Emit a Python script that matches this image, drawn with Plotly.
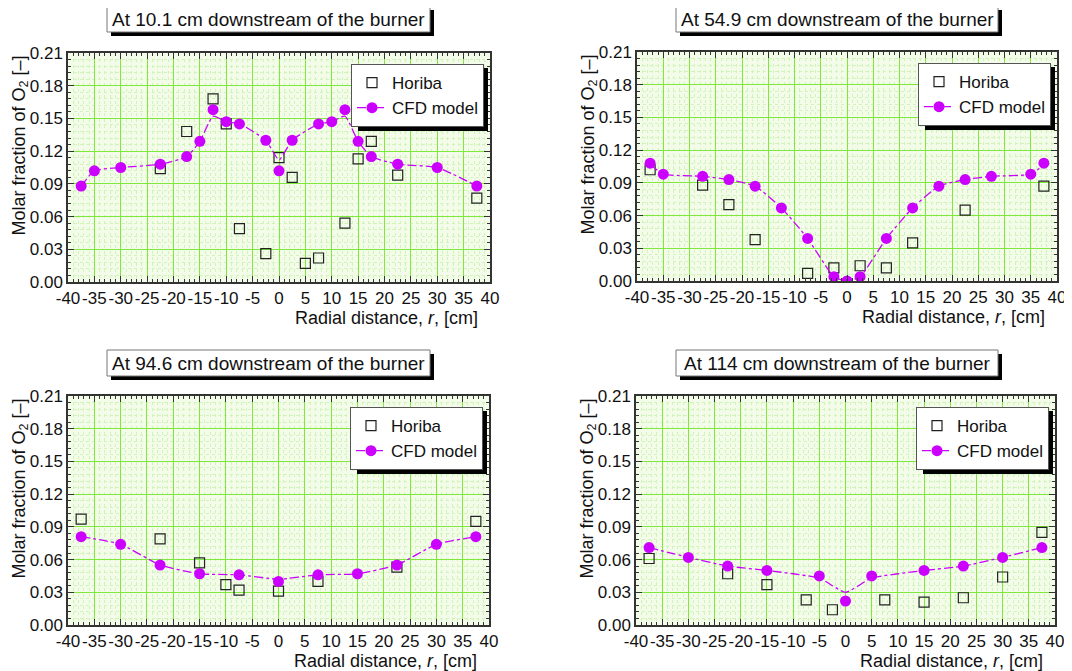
import plotly.graph_objects as go

# page body has an 8px margin: figure is sized so it ends at the window edge
OFF = 8
W, H = 1072 - OFF, 671 - OFF

# ---------------- data ----------------
titles = ["At 10.1 cm downstream of the burner",
          "At 54.9 cm downstream of the burner",
          "At 94.6 cm downstream of the burner",
          "At 114 cm downstream of the burner"]

x_ticks = list(range(-40, 41, 5))
x_tick_text = [str(v) for v in x_ticks]
y_ticks = [0.00, 0.03, 0.06, 0.09, 0.12, 0.15, 0.18, 0.21]

# Panel 1: 10.1 cm
horiba_r_1 = [-22.5, -17.5, -12.5, -10, -7.5, -2.5, 0, 2.5, 5, 7.5, 12.5, 15, 17.5, 22.5, 37.5]
horiba_v_1 = [0.104, 0.138, 0.168, 0.145, 0.049, 0.026, 0.114, 0.096, 0.017, 0.022, 0.054, 0.113, 0.129, 0.098, 0.077]
cfd_r_1 = [-37.5, -35, -30, -22.5, -17.5, -15, -12.5, -10, -7.5, -2.5, 0, 2.5, 7.5, 10, 12.5, 15, 17.5, 22.5, 30, 37.5]
cfd_v_1 = [0.088, 0.102, 0.105, 0.108, 0.115, 0.129, 0.158, 0.147, 0.145, 0.130, 0.102, 0.130, 0.145, 0.147, 0.158, 0.129, 0.115, 0.108, 0.105, 0.088]
cfd_line_1 = [0.088, 0.102, 0.105, 0.108, 0.115, 0.129, 0.152, 0.147, 0.145, 0.130, 0.112, 0.130, 0.145, 0.147, 0.152, 0.129, 0.115, 0.108, 0.105, 0.088]

# Panel 2: 54.9 cm
horiba_r_2 = [-37.5, -27.5, -22.5, -17.5, -7.5, -2.5, 2.5, 7.5, 12.5, 22.5, 37.5]
horiba_v_2 = [0.102, 0.088, 0.070, 0.038, 0.007, 0.012, 0.014, 0.012, 0.035, 0.065, 0.087]
cfd_r_2 = [-37.5, -35, -27.5, -22.5, -17.5, -12.5, -7.5, -2.5, 0, 2.5, 7.5, 12.5, 17.5, 22.5, 27.5, 35, 37.5]
cfd_v_2 = [0.108, 0.098, 0.096, 0.093, 0.087, 0.067, 0.039, 0.004, 0.000, 0.004, 0.039, 0.067, 0.087, 0.093, 0.096, 0.098, 0.108]
cfd_line_2 = [0.107, 0.098, 0.096, 0.093, 0.087, 0.067, 0.039, 0.004, 0.000, 0.004, 0.039, 0.067, 0.087, 0.093, 0.096, 0.098, 0.107]

# Panel 3: 94.6 cm
horiba_r_3 = [-37.5, -22.5, -15, -10, -7.5, 0, 7.5, 22.5, 37.5]
horiba_v_3 = [0.097, 0.079, 0.057, 0.037, 0.032, 0.031, 0.040, 0.053, 0.095]
cfd_r_3 = [-37.5, -30, -22.5, -15, -7.5, 0, 7.5, 15, 22.5, 30, 37.5]
cfd_v_3 = [0.081, 0.074, 0.055, 0.047, 0.046, 0.040, 0.046, 0.047, 0.055, 0.074, 0.081]
cfd_line_3 = [0.081, 0.074, 0.055, 0.047, 0.046, 0.042, 0.046, 0.047, 0.055, 0.074, 0.081]

# Panel 4: 114 cm
horiba_r_4 = [-37.5, -22.5, -15, -7.5, -2.5, 7.5, 15, 22.5, 30, 37.5]
horiba_v_4 = [0.061, 0.047, 0.037, 0.023, 0.014, 0.023, 0.021, 0.025, 0.044, 0.085]
cfd_r_4 = [-37.5, -30, -22.5, -15, -5, 0, 5, 15, 22.5, 30, 37.5]
cfd_v_4 = [0.071, 0.062, 0.054, 0.050, 0.045, 0.022, 0.045, 0.050, 0.054, 0.062, 0.071]
cfd_line_4 = [0.071, 0.062, 0.054, 0.050, 0.043, 0.030, 0.043, 0.050, 0.054, 0.062, 0.071]

panels = [
    (horiba_r_1, horiba_v_1, cfd_r_1, cfd_v_1, cfd_line_1),
    (horiba_r_2, horiba_v_2, cfd_r_2, cfd_v_2, cfd_line_2),
    (horiba_r_3, horiba_v_3, cfd_r_3, cfd_v_3, cfd_line_3),
    (horiba_r_4, horiba_v_4, cfd_r_4, cfd_v_4, cfd_line_4),
]

# ---------------- layout geometry (window pixels) ----------------
# plot areas: (left, right, top, bottom)
areas = [(68, 490, 53, 282), (637, 1057, 52, 281), (68, 489, 396, 625), (636, 1055, 396, 625)]
title_boxes = [(107, 430, 6, 32), (676, 998, 6, 32), (107, 430, 350, 376), (676, 998, 350, 376)]

MAG = "#cc00ff"
FONT = "Liberation Sans, Arial, sans-serif"

def px(x):
    return (x - OFF) / W

def py(y):
    return 1 - (y - OFF) / H

fig = go.Figure()
layout = dict(
    width=W, height=H,
    margin=dict(l=0, r=0, t=0, b=0, autoexpand=False),
    paper_bgcolor="white",
    plot_bgcolor="#f3fce8",
    font=dict(family=FONT, size=17, color="#111"),
    showlegend=True,
)
shapes = []
annotations = []

for i, (hr, hv, cr, cv, cl) in enumerate(panels):
    n = i + 1
    xa = "x" if n == 1 else f"x{n}"
    ya = "y" if n == 1 else f"y{n}"
    lg = "legend" if n == 1 else f"legend{n}"
    l, r, t, b = areas[i]

    fig.add_trace(go.Scatter(
        x=hr, y=hv, mode="markers", name="Horiba",
        marker=dict(symbol="square-open", size=10, color="#222", line=dict(width=1.2)),
        xaxis=xa, yaxis=ya, legend=lg, showlegend=True))
    fig.add_trace(go.Scatter(
        x=cr, y=cl, mode="lines", name="CFD line",
        line=dict(color=MAG, width=1.3, dash="dashdot", shape="spline", smoothing=0.5),
        xaxis=xa, yaxis=ya, showlegend=False, hoverinfo="skip"))
    fig.add_trace(go.Scatter(
        x=cr, y=cv, mode="markers", name="CFD model",
        marker=dict(symbol="circle", size=11, color=MAG),
        xaxis=xa, yaxis=ya, showlegend=False))
    fig.add_trace(go.Scatter(
        x=[None], y=[None], mode="lines+markers", name="CFD model",
        marker=dict(symbol="circle", size=11, color=MAG),
        line=dict(color=MAG, width=1.3, dash="dashdot"),
        xaxis=xa, yaxis=ya, legend=lg, showlegend=True))

    axis_common = dict(
        showline=True, linecolor="#333", linewidth=1.5, mirror="allticks",
        ticks="inside", ticklen=6, tickwidth=1.2, tickcolor="#333",
        showgrid=True, gridcolor="#7ee83c", gridwidth=1, zeroline=False,
        automargin=False,
        tickfont=dict(size=17, family=FONT, color="#111"),
    )
    layout["xaxis" if n == 1 else f"xaxis{n}"] = dict(
        axis_common, domain=[px(l), px(r)], anchor=ya, range=[-40, 40],
        tickmode="array", tickvals=x_ticks, ticktext=x_tick_text, tickangle=0,
        minor=dict(dtick=1, tick0=0, ticks="inside", ticklen=3, tickcolor="#333",
                   showgrid=True, gridcolor="#d3f3bd", gridwidth=1, griddash="dot"),
    )
    layout["yaxis" if n == 1 else f"yaxis{n}"] = dict(
        axis_common, domain=[py(b), py(t)], anchor=xa, range=[0, 0.21],
        tickmode="array", tickvals=y_ticks, ticktext=[f"{v:.2f}" for v in y_ticks],
        minor=dict(dtick=0.006, tick0=0, ticks="inside", ticklen=3, tickcolor="#333",
                   showgrid=True, gridcolor="#d3f3bd", gridwidth=1, griddash="dot"),
    )

    # legend with shadow
    lx_r, ly_t = r - 6, t + 11
    layout[lg] = dict(
        x=px(lx_r), y=py(ly_t), xanchor="right", yanchor="top",
        bgcolor="white", bordercolor="#555", borderwidth=1,
        font=dict(size=17, family=FONT, color="#111"),
        itemwidth=30, tracegroupgap=0, traceorder="normal",
    )
    shapes.append(dict(type="rect", xref="paper", yref="paper", layer="above",
                       x0=px(lx_r - 126), x1=px(lx_r + 4), y0=py(ly_t + 67), y1=py(ly_t + 4),
                       fillcolor="black", line=dict(width=0)))

    # title box with shadow
    bl, br, bt, bb = title_boxes[i]
    shapes.append(dict(type="rect", xref="paper", yref="paper", layer="above",
                       x0=px(bl + 4), x1=px(br + 4), y0=py(bb + 4), y1=py(bt + 4),
                       fillcolor="black", line=dict(width=0)))
    shapes.append(dict(type="rect", xref="paper", yref="paper", layer="above",
                       x0=px(bl), x1=px(br), y0=py(bb), y1=py(bt),
                       fillcolor="white", line=dict(color="#777", width=1)))
    annotations.append(dict(text=titles[i], xref="paper", yref="paper",
                            x=px((bl + br) / 2), y=py((bt + bb) / 2),
                            xanchor="center", yanchor="middle", showarrow=False,
                            font=dict(size=19, family=FONT, color="#111")))

    # axis titles
    annotations.append(dict(text="Radial distance, <i>r</i>, [cm]", xref="paper", yref="paper",
                            x=px(r - 10), y=py(b + 36), xanchor="right", yanchor="middle",
                            showarrow=False, font=dict(size=18, family=FONT, color="#111")))
    annotations.append(dict(text="Molar fraction of O<sub>2</sub> [\u2013]", xref="paper", yref="paper",
                            x=px(l - 48), y=py((t + b) / 2 - 22), xanchor="center", yanchor="middle",
                            textangle=-90, showarrow=False,
                            font=dict(size=18, family=FONT, color="#111")))

layout["shapes"] = shapes
layout["annotations"] = annotations
fig.update_layout(**layout)
fig.write_html("out.html")
